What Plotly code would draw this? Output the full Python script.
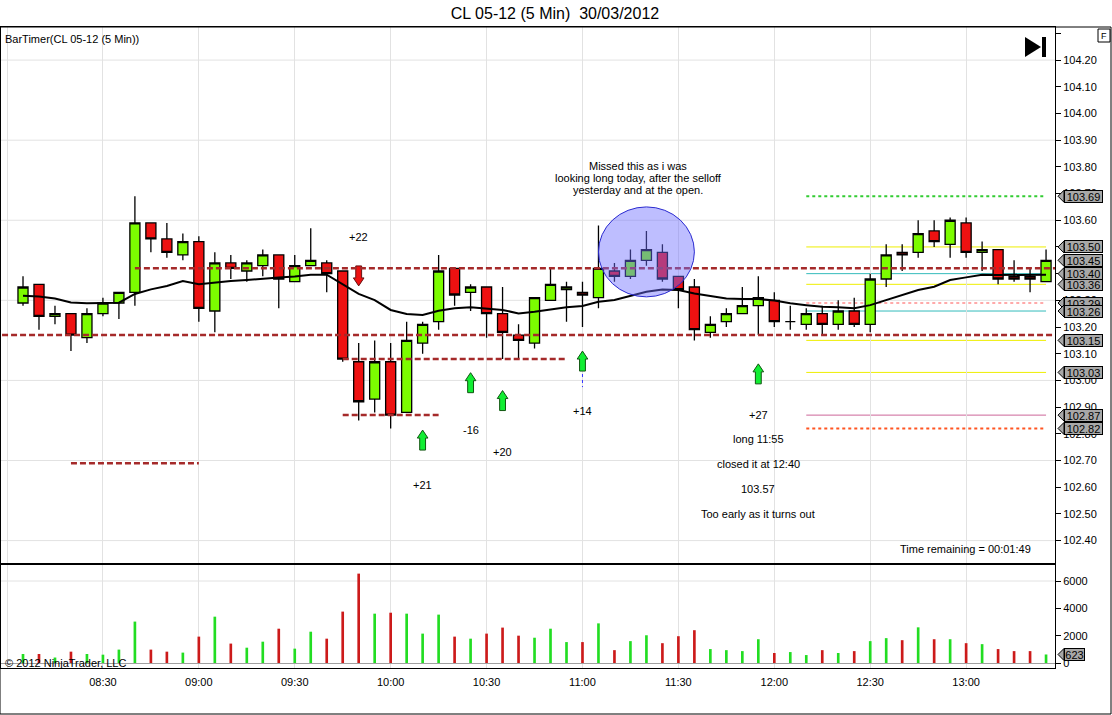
import pandas as pd
import plotly.graph_objects as go

# 5 minute bars, close time of each bar
times = pd.date_range("2012-03-30 08:05", periods=65, freq="5min")

opens = [103.29, 103.36, 103.24, 103.25, 103.16, 103.25, 103.29, 103.33, 103.59, 103.53,
         103.47, 103.52, 103.26, 103.44, 103.41, 103.43, 103.47, 103.37, 103.43, 103.44,
         103.41, 103.07, 102.93, 103.07, 102.88, 103.14, 103.22, 103.42, 103.33, 103.35,
         103.25, 103.17, 103.14, 103.30, 103.34, 103.33, 103.31, 103.41, 103.39, 103.45,
         103.48, 103.39, 103.35, 103.18, 103.22, 103.25, 103.28, 103.30, 103.22, 103.21,
         103.25, 103.21, 103.26, 103.21, 103.38, 103.48, 103.48, 103.56, 103.51, 103.59,
         103.48, 103.49, 103.39, 103.39, 103.37]
highs = [103.39, 103.36, 103.28, 103.25, 103.27, 103.31, 103.33, 103.69, 103.59, 103.59,
         103.55, 103.54, 103.48, 103.47, 103.45, 103.49, 103.47, 103.47, 103.57, 103.45,
         103.41, 103.14, 103.15, 103.14, 103.22, 103.22, 103.47, 103.42, 103.36, 103.35,
         103.35, 103.21, 103.31, 103.42, 103.37, 103.37, 103.58, 103.44, 103.49, 103.56,
         103.51, 103.39, 103.38, 103.24, 103.27, 103.35, 103.39, 103.33, 103.28, 103.27,
         103.28, 103.30, 103.31, 103.40, 103.51, 103.51, 103.60, 103.60, 103.61, 103.61,
         103.52, 103.49, 103.45, 103.42, 103.49]
lows = [103.28, 103.19, 103.21, 103.11, 103.14, 103.24, 103.23, 103.28, 103.48, 103.46,
        103.45, 103.22, 103.18, 103.38, 103.37, 103.39, 103.27, 103.37, 103.43, 103.33,
        103.07, 102.85, 102.88, 102.82, 102.88, 103.10, 103.19, 103.28, 103.26, 103.16,
        103.08, 103.08, 103.12, 103.30, 103.22, 103.20, 103.27, 103.37, 103.38, 103.43,
        103.37, 103.27, 103.15, 103.16, 103.20, 103.25, 103.17, 103.20, 103.19, 103.19,
        103.17, 103.19, 103.20, 103.18, 103.35, 103.41, 103.46, 103.50, 103.46, 103.46,
        103.41, 103.36, 103.37, 103.33, 103.37]
closes = [103.35, 103.24, 103.25, 103.17, 103.25, 103.29, 103.33, 103.59, 103.53, 103.48,
          103.52, 103.27, 103.44, 103.42, 103.44, 103.47, 103.38, 103.43, 103.45, 103.40,
          103.08, 102.92, 103.07, 102.87, 103.15, 103.21, 103.41, 103.32, 103.35, 103.25,
          103.18, 103.15, 103.31, 103.36, 103.35, 103.32, 103.42, 103.39, 103.45, 103.49,
          103.38, 103.34, 103.19, 103.21, 103.25, 103.28, 103.31, 103.22, 103.22, 103.25,
          103.21, 103.26, 103.21, 103.38, 103.47, 103.47, 103.55, 103.52, 103.60, 103.48,
          103.49, 103.38, 103.38, 103.38, 103.45]
volumes = [660, 660, 400, 830, 660, 610, 980, 3030, 980, 830,
           760, 1930, 3390, 1420, 1120, 1560, 2510, 1050, 2290, 1780,
           3760, 6540, 3610, 3680, 3610, 2150, 3540, 1930, 1780, 2150,
           2590, 2000, 1850, 2510, 1530, 1530, 2900, 940, 1600, 2030,
           1450, 1960, 2400, 1020, 940, 870, 1740, 730, 800, 580,
           940, 730, 870, 1600, 1820, 1670, 2610, 1740, 1740, 1450,
           1380, 1020, 870, 870, 623]
# moving average as drawn on the chart
sma = [103.317, 103.314, 103.307, 103.292, 103.289, 103.289, 103.291, 103.324, 103.341, 103.354,
       103.372, 103.360, 103.367, 103.372, 103.376, 103.382, 103.386, 103.389, 103.396, 103.396,
       103.360, 103.324, 103.301, 103.264, 103.249, 103.245, 103.261, 103.270, 103.274, 103.270,
       103.264, 103.251, 103.257, 103.266, 103.274, 103.279, 103.295, 103.301, 103.316, 103.332,
       103.341, 103.339, 103.326, 103.316, 103.307, 103.305, 103.305, 103.299, 103.289, 103.282,
       103.276, 103.274, 103.270, 103.282, 103.301, 103.320, 103.339, 103.351, 103.376, 103.386,
       103.396, 103.395, 103.395, 103.395, 103.396]

# dashed support / resistance lines
sr_levels = [103.42, 103.17, 103.08, 102.87, 102.69]
sr_start = ["08:40", "07:50", "09:45", "09:45", "08:20"]
sr_end = ["13:35", "13:35", "10:55", "10:15", "09:00"]

# pivot lines on the right
pivot_levels = [103.69, 103.50, 103.40, 103.36, 103.29, 103.26, 103.15, 103.03, 102.87, 102.82]
pivot_colors = ["#33cc33", "#eeee00", "#33bbbb", "#eeee00", "#ffaaaa",
                "#33bbbb", "#eeee00", "#eeee00", "#cc6699", "#ff5522"]
pivot_dash = ["dot", "solid", "solid", "solid", "dot",
              "solid", "solid", "solid", "solid", "dot"]
pivot_start, pivot_end = "12:10", "13:25"

# grey price tags on the axis (draw order matters for overlaps)
tag_prices = [103.69, 103.50, 103.45, 103.36, 103.40, 103.29, 103.26, 103.15, 103.03, 102.87, 102.82]

price_ticks = [102.4, 102.5, 102.6, 102.7, 102.8, 102.9, 103.0, 103.1, 103.2, 103.3,
               103.4, 103.5, 103.6, 103.7, 103.8, 103.9, 104.0, 104.1, 104.2, 104.3]
price_grid = [104.2, 103.9, 103.6, 103.3, 103.0, 102.7, 102.4]
volume_ticks = [0, 2000, 4000, 6000]

# trade arrows
up_arrow_times = ["10:10", "10:25", "10:35", "11:00", "11:55"]
up_arrow_tips = [102.814, 103.029, 102.962, 103.110, 103.062]
down_arrow_times = ["09:50"]
down_arrow_tips = [103.354]

# text notes: (time, price, text)
notes = [
    ("09:50", 103.537, "+22"),
    ("10:10", 102.608, "+21"),
    ("10:25", 102.814, "-16"),
    ("10:35", 102.732, "+20"),
    ("11:00", 102.886, "+14"),
    ("11:55", 102.871, "+27"),
    ("11:55", 102.781, "long 11:55"),
    ("11:55", 102.687, "closed it at 12:40"),
    ("11:55", 102.593, "103.57"),
    ("11:55", 102.500, "Too early as it turns out"),
    ("11:17:30", 103.803, "Missed this as i was"),
    ("11:17:30", 103.758, "looking long today, after the selloff"),
    ("11:17:30", 103.713, "yesterday and at the open."),
]

DAY = "2012-03-30 "
W, H = 1112, 715
L, R, T, B = 1, 57, 27, 47
PW, PH = W - L - R, H - T - B
y_main = (102.316, 104.324)
y_vol = (-366, 7171)
FONT = "Liberation Sans, Arial"


def px(x):
    return (x - L) / PW


def py(y):
    return (H - B - y) / PH


def ts(t):
    return pd.Timestamp(DAY + t)


main_dom = [py(563), 1.0]
vol_dom = [0.0, py(565)]
price_per_px = (y_main[1] - y_main[0]) / ((main_dom[1] - main_dom[0]) * PH)
vol_per_px = (y_vol[1] - y_vol[0]) / ((vol_dom[1] - vol_dom[0]) * PH)

fig = go.Figure()

fig.add_trace(go.Candlestick(
    x=times, open=opens, high=highs, low=lows, close=closes,
    increasing=dict(line=dict(color="black", width=1.3), fillcolor="#7cfc00"),
    decreasing=dict(line=dict(color="black", width=1.3), fillcolor="#ee1111"),
    whiskerwidth=0, hoverinfo="skip", showlegend=False))

fig.add_trace(go.Scatter(x=times, y=sma, mode="lines",
                         line=dict(color="black", width=2), hoverinfo="skip", showlegend=False))

vol_colors = ["#22dd22" if c >= o else "#cc1a1a" for o, c in zip(opens, closes)]
fig.add_trace(go.Bar(x=times, y=volumes, width=50000, marker=dict(color=vol_colors, line_width=0),
                     xaxis="x2", yaxis="y2", hoverinfo="skip", showlegend=False))


# block arrows built as filled polygons
def arrow_path(t_list, tips, up):
    xs, ys = [], []
    hh = pd.Timedelta(seconds=100)
    sh = pd.Timedelta(seconds=55)
    head, length = 8 * price_per_px, 20 * price_per_px
    s = -1 if up else 1
    for t, p in zip(t_list, tips):
        t = ts(t)
        xs += [t, t + hh, t + sh, t + sh, t - sh, t - sh, t - hh, t, None]
        ys += [p, p + s * head, p + s * head, p + s * length, p + s * length,
               p + s * head, p + s * head, p, None]
    return xs, ys


ax, ay = arrow_path(up_arrow_times, up_arrow_tips, True)
fig.add_trace(go.Scatter(x=ax, y=ay, mode="lines", fill="toself", fillcolor="#11ee33",
                         line=dict(color="#115511", width=1), hoverinfo="skip", showlegend=False))
ax, ay = arrow_path(down_arrow_times, down_arrow_tips, False)
fig.add_trace(go.Scatter(x=ax, y=ay, mode="lines", fill="toself", fillcolor="#ee1111",
                         line=dict(color="#661111", width=1), hoverinfo="skip", showlegend=False))
fig.add_trace(go.Scatter(x=[ts("11:00"), ts("11:00")], y=[103.024, 102.975], mode="lines",
                         line=dict(color="#3333ff", width=1, dash="dot"),
                         hoverinfo="skip", showlegend=False))

shapes = []
for g in price_grid:
    shapes.append(dict(type="line", xref="paper", yref="y", x0=0, x1=1, y0=g, y1=g,
                       line=dict(color="#e2e2e2", width=1), layer="below"))
shapes.append(dict(type="line", xref="paper", yref="y2", x0=0, x1=1, y0=6000, y1=6000,
                   line=dict(color="#e2e2e2", width=1), layer="below"))

for lv, c, d in zip(pivot_levels, pivot_colors, pivot_dash):
    shapes.append(dict(type="line", xref="x", yref="y", x0=ts(pivot_start), x1=ts(pivot_end),
                       y0=lv, y1=lv, line=dict(color=c, width=2 if d == "dot" else 1, dash=d),
                       layer="below"))

for lv, a, b in zip(sr_levels, sr_start, sr_end):
    shapes.append(dict(type="line", xref="x", yref="y", x0=ts(a), x1=ts(b), y0=lv, y1=lv,
                       line=dict(color="#a52a2a", width=2.5, dash="6px,3px"), layer="above"))

# highlight circle
shapes.append(dict(type="circle", xref="x", yref="y", x0=ts("11:05"), x1=ts("11:35"),
                   y0=103.313, y1=103.650, fillcolor="rgba(110,110,255,0.45)",
                   line=dict(color="#2a2ad0", width=1), layer="above"))

annotations = []
for t, p, txt in notes:
    annotations.append(dict(x=ts(t), y=p, xref="x", yref="y", text=txt, showarrow=False,
                            xanchor="center", yanchor="middle",
                            font=dict(family=FONT, size=11, color="black")))


def price_tag(value, yref, per_px, label):
    half = 6 * per_px
    shapes.append(dict(type="path", xref="paper", yref=yref, layer="above",
                       path=f"M {px(1058)},{value} L {px(1064)},{value + half} "
                            f"L {px(1064)},{value - half} Z",
                       fillcolor="#a8a8a8", line=dict(color="black", width=1)))
    annotations.append(dict(x=px(1064), y=value, xref="paper", yref=yref, xanchor="left",
                            yanchor="middle", text=label, showarrow=False, width=len(label) * 6 + 1,
                            height=11, bgcolor="#a8a8a8", bordercolor="black", borderwidth=1,
                            borderpad=0, font=dict(family=FONT, size=11, color="black")))


for tp in tag_prices:
    price_tag(tp, "y", price_per_px, f"{tp:.2f}")
price_tag(volumes[-1], "y2", vol_per_px, str(volumes[-1]))

# outer frame, play icon, F box
shapes.append(dict(type="rect", xref="paper", yref="paper", x0=px(0), x1=px(1111),
                   y0=py(714), y1=py(27), line=dict(color="black", width=1)))
shapes.append(dict(type="path", xref="paper", yref="paper",
                   path=f"M {px(1025)},{py(37)} L {px(1041)},{py(47)} L {px(1025)},{py(57)} Z",
                   fillcolor="black", line=dict(width=0)))
shapes.append(dict(type="rect", xref="paper", yref="paper", x0=px(1042), x1=px(1046),
                   y0=py(57), y1=py(37), fillcolor="black", line=dict(width=0)))
shapes.append(dict(type="rect", xref="paper", yref="paper", x0=px(1098), x1=px(1110),
                   y0=py(42), y1=py(29), fillcolor="white", line=dict(color="black", width=1)))
annotations.append(dict(x=px(1104), y=py(35.5), xref="paper", yref="paper", text="F",
                        xanchor="center", yanchor="middle", showarrow=False,
                        font=dict(family=FONT, size=9, color="black")))

annotations.append(dict(x=px(3), y=py(39), xref="paper", yref="paper", xanchor="left",
                        yanchor="middle", text="BarTimer(CL 05-12 (5 Min))", showarrow=False,
                        font=dict(family=FONT, size=11, color="black")))
annotations.append(dict(x=px(1033), y=py(549), xref="paper", yref="paper", xanchor="right",
                        yanchor="middle", text="Time remaining = 00:01:49", showarrow=False,
                        font=dict(family=FONT, size=11, color="black")))
annotations.append(dict(x=px(3), y=py(663), xref="paper", yref="paper", xanchor="left",
                        yanchor="middle", text="© 2012 NinjaTrader, LLC", showarrow=False,
                        font=dict(family=FONT, size=11, color="black")))

x_range = [ts("07:58:07"), ts("13:27:48")]
xcommon = dict(range=x_range, showgrid=True, gridcolor="#e2e2e2", gridwidth=1,
               tick0=ts("08:00"), dtick=30 * 60 * 1000, tickformat="%H:%M",
               showline=True, linecolor="black", linewidth=1, mirror=True, ticks="",
               zeroline=False)

fig.update_layout(
    width=W, height=H, margin=dict(l=L, r=R, t=T, b=B),
    paper_bgcolor="white", plot_bgcolor="white",
    font=dict(family=FONT, size=11, color="black"),
    title=dict(text="CL 05-12 (5 Min)\u00a0 30/03/2012", x=555 / W, xanchor="center",
               y=1 - 13 / H, yanchor="middle", font=dict(family=FONT, size=16, color="black")),
    boxgap=0.3, boxgroupgap=0.1,
    hovermode=False, showlegend=False,
    xaxis=dict(**xcommon, anchor="y", showticklabels=False, rangeslider=dict(visible=False)),
    xaxis2=dict(**xcommon, anchor="y2", matches="x", showticklabels=True, ticklabelstandoff=4,
                tickfont=dict(family=FONT, size=11, color="black")),
    yaxis=dict(domain=main_dom, range=list(y_main), side="right", showgrid=False, zeroline=False,
               tickvals=price_ticks, ticktext=[f"{v:.2f}" if v < 104.25 else "" for v in price_ticks],
               ticks="outside", ticklen=5, tickcolor="black", showline=True, linecolor="black",
               mirror=True, tickfont=dict(family=FONT, size=11, color="black")),
    yaxis2=dict(domain=vol_dom, range=list(y_vol), side="right", showgrid=False,
                zeroline=True, zerolinecolor="#a0a0a0", zerolinewidth=1,
                tickvals=volume_ticks, ticks="outside", ticklen=5, tickcolor="black",
                showline=True, linecolor="black", mirror=True,
                tickfont=dict(family=FONT, size=11, color="black")),
    shapes=shapes, annotations=annotations,
)

# the page body has a default 8px margin; drop it so the figure fills the window
fig.write_html("out.html", config={"displayModeBar": False},
               post_script="document.body.style.margin='0';")
